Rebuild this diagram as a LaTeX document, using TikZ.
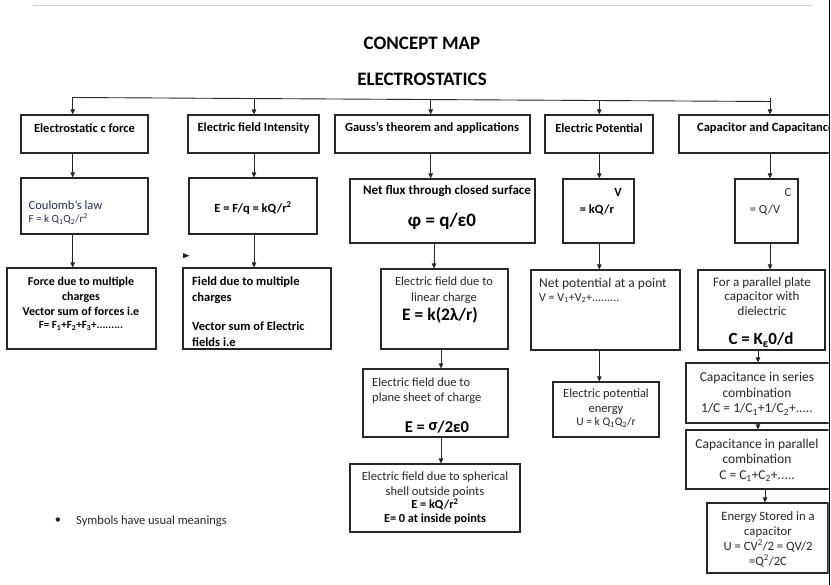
\documentclass[tikz,border=0pt]{standalone}
\usepackage{fontspec}
\setmainfont{Carlito}
\usetikzlibrary{arrows.meta,fit}
\definecolor{navytxt}{RGB}{35,45,80}
\begin{document}
\begin{tikzpicture}[x=1pt,y=-1pt,
  boxed/.style={draw=black!85, line width=1.1pt, inner sep=0pt},
  arr/.style={draw=black!85, line width=0.8pt, -{Triangle[length=5pt,width=4.5pt]}},
  lab/.style={font=\fontsize{12.5}{14}\selectfont\bfseries, inner sep=0pt},
  bold/.style={font=\fontsize{12}{15}\selectfont\bfseries, inner sep=0pt, align=center},
  body/.style={font=\fontsize{12.5}{15}\selectfont, text=black!85, inner sep=0pt, align=center},
  big/.style={font=\fontsize{17.5}{20}\selectfont\bfseries, inner sep=0pt},
  title/.style={font=\fontsize{19}{22}\selectfont\bfseries, inner sep=0pt}
]
\useasboundingbox (0,0) rectangle (831,585);
\draw[black!18, line width=1pt] (33,5.3) -- (812,5.3);
\begin{scope}
\clip (0,0) rectangle (828.6,585);
% titles
\node[title] (t1) at (422,43) {CONCEPT MAP};
\node[title] (t2) at (422,79.5) {ELECTROSTATICS};
% bus
\coordinate (busL) at (72.7,97.5);
\coordinate (busR) at (770,101.5);
\draw[black!85, line width=0.9pt] (busL) -- (busR);
\coordinate (c1) at (72.7,0);
\coordinate (c2) at (254,0);
\coordinate (c3) at (430.7,0);
\coordinate (c3b) at (434,0);
\coordinate (c3c) at (441,0);
\coordinate (c4) at (599.3,0);
\coordinate (c5) at (770,0);
\coordinate (c5b) at (758,0);
\coordinate (c5c) at (765,0);
\coordinate (r2) at (254,98.5);
\coordinate (r3) at (430.7,99.5);
\coordinate (r4) at (599.3,100.5);
\coordinate (r5) at (770,98);
% row 1 boxes
\node[boxed, fit={(21,115)(148,153)}] (b1a) {};
\node[boxed, fit={(188,115)(319,153)}] (b2a) {};
\node[boxed, fit={(335,115)(530,153)}] (b3a) {};
\node[boxed, fit={(545,115)(653,153)}] (b4a) {};
\node[boxed, fit={(679,115)(860,153)}] (b5a) {};
% row 2
\node[boxed, fit={(21,178)(148,234)}] (b1b) {};
\node[boxed, fit={(189,178)(317,234)}] (b2b) {};
\node[boxed, fit={(350,179)(535,243)}] (b3b) {};
\node[boxed, fit={(563,179)(634,243)}] (b4b) {};
\node[boxed, fit={(735,179)(798,243)}] (b5b) {};
% row 3
\node[boxed, fit={(7,268)(156,349)}] (b1c) {};
\node[boxed, fit={(183,268)(331,349)}] (b2c) {};
\node[boxed, fit={(381,269)(508,349)}] (b3c) {};
\node[boxed, fit={(531,270)(680,350)}] (b4c) {};
\node[boxed, fit={(698,270)(825,350)}] (b5c) {};
% lower boxes
\node[boxed, fit={(363,369)(508,437)}] (b3d) {};
\node[boxed, fit={(350,464)(520,532)}] (b3e) {};
\node[boxed, fit={(553,382)(659,437)}] (b4d) {};
\node[boxed, fit={(686,363)(860,423)}] (b5d) {};
\node[boxed, fit={(686,430)(860,489)}] (b5e) {};
\node[boxed, fit={(707,503)(828,573)}] (b5f) {};
% risers
\draw[arr] (busL) -- (b1a.north -| c1);
\draw[arr] (r2) -- (b2a.north -| c2);
\draw[arr] (r3) -- (b3a.north -| c3);
\draw[arr] (r4) -- (b4a.north -| c4);
\draw[arr] (r5) -- (b5a.north -| c5);
% column arrows
\draw[arr] (b1a.south -| c1) -- (b1b.north -| c1);
\draw[arr] (b1b.south -| c1) -- (b1c.north -| c1);
\draw[arr] (b2a.south -| c2) -- (b2b.north -| c2);
\draw[arr] (b2b.south -| c2) -- (b2c.north -| c2);
\draw[arr] (b3a.south -| c3) -- (b3b.north -| c3);
\draw[arr] (b3b.south -| c3b) -- (b3c.north -| c3b);
\draw[arr] (b3c.south -| c3c) -- (b3d.north -| c3c);
\draw[arr] (b3d.south -| c3c) -- (b3e.north -| c3c);
\draw[arr] (b4a.south -| c4) -- (b4b.north -| c4);
\draw[arr] (b4b.south -| c4) -- (b4c.north -| c4);
\draw[arr] (b4c.south -| c4) -- (b4d.north -| c4);
\draw[arr] (b5a.south -| c5) -- (b5b.north -| c5);
\draw[arr] (b5b.south -| c5) -- (b5c.north -| c5);
\draw[arr] (b5c.south -| c5b) -- (b5d.north -| c5b);
\draw[arr] (b5d.south -| c5b) -- (b5e.north -| c5b);
\draw[arr] (b5e.south -| c5c) -- (b5f.north -| c5c);
% stray arrowhead
\fill[black!85] (183,253) -- (189.5,255.7) -- (183,258.3) -- cycle;
% row 1 labels
\node[lab] (l1a) at (84.5,128) {Electrostatic c force};
\node[lab] (l2a) at (253.5,128) {Electric field Intensity};
\node[lab] (l3a) at (432,128) {Gauss’s theorem and applications};
\node[lab] (l4a) at (599,128) {Electric Potential};
\node[lab, anchor=west] (l5a) at (697,128) {Capacitor and Capacitance};
% row 2 texts
\node[body, align=left, anchor=north west, text=navytxt, font=\fontsize{12.5}{13.5}\selectfont] (l1b) at (28.5,200) {Coulomb’s law\\{\fontsize{11}{12}\selectfont F = k Q\textsubscript{1}Q\textsubscript{2}/r\textsuperscript{2}}};
\node[lab, font=\fontsize{12.5}{14}\selectfont\bfseries] (l2b) at (253,208) {E = F/q = kQ/r\textsuperscript{2}};
\node[lab, font=\fontsize{13}{14}\selectfont\bfseries] (l3b) at (447,191) {Net flux through closed surface};
\node[big, font=\fontsize{19}{21}\selectfont\bfseries] (l3b2) at (442,221) {φ = q/ε0};
\node[lab] (l4b) at (618,192) {V};
\node[lab] (l4b2) at (597,210) {= kQ/r};
\node[body] (l5b) at (788,192) {C};
\node[body] (l5b2) at (765,210) {= Q/V};
% row 3 texts
\node[bold, anchor=north] (l1c) at (81,277) {Force due to multiple\\charges\\Vector sum of forces i.e\\[-2pt]{\fontsize{11}{12}\selectfont F= F\textsubscript{1}+F\textsubscript{2}+F\textsubscript{3}+.........}};
\begin{scope}
\clip (183,268) rectangle (331,348.4);
\node[bold, align=left, anchor=north west, font=\fontsize{12.5}{16}\selectfont\bfseries] (l2c) at (192,277) {Field due to multiple\\charges\\[13pt]Vector sum of Electric\\fields i.e};
\end{scope}
\node[body, anchor=north] (l3c) at (444,277) {Electric field due to\\[1pt]linear charge};
\node[big] (l3c2) at (440,315) {E = k(2λ/r)};
\node[body, align=left, anchor=north west, font=\fontsize{13.5}{14}\selectfont] (l4c) at (539,277.5) {Net potential at a point\\{\fontsize{12}{12}\selectfont V = V\textsubscript{1}+V\textsubscript{2}+.........}};
\node[body, anchor=north, font=\fontsize{13}{14.5}\selectfont] (l5c) at (762,277) {For a parallel plate\\capacitor with\\dielectric};
\node[big, font=\fontsize{17}{20}\selectfont\bfseries] (l5c2) at (761,340) {C = K\raisebox{-3pt}{\fontsize{12}{12}\selectfont ε}0/d};
% lower texts
\node[body, align=left, anchor=north west] (l3d) at (372,378) {Electric field due to\\plane sheet of charge};
\node[big, font=\fontsize{16.5}{20}\selectfont\bfseries] (l3d2) at (437,427) {E = \raisebox{2pt}{σ}/2ε0};
\node[body, anchor=north, font=\fontsize{12.5}{15}\selectfont] (l3e) at (435,472) {Electric field due to spherical\\shell outside points\\[-2pt]\textbf{\color{black}\fontsize{12.3}{13}\selectfont E = kQ/r\textsuperscript{2}}\\[-1pt]\textbf{\color{black}\fontsize{12.3}{13}\selectfont E= 0 at inside points}};
\node[body, anchor=north] (l4d) at (606,389) {Electric potential\\energy\\[-2pt]{\fontsize{11.5}{12}\selectfont U = k Q\textsubscript{1}Q\textsubscript{2}/r}};
\node[body, anchor=north, font=\fontsize{13.5}{15.5}\selectfont] (l5d) at (757,372.5) {Capacitance in series\\combination\\1/C = 1/C\textsubscript{1}+1/C\textsubscript{2}+.....};
\node[body, anchor=north, font=\fontsize{13.5}{15.5}\selectfont] (l5e) at (757,438.5) {Capacitance in parallel\\combination\\C = C\textsubscript{1}+C\textsubscript{2}+.....};
\node[body, anchor=north, font=\fontsize{12.7}{15}\selectfont] (l5f) at (768,511) {Energy Stored in a\\capacitor\\U = CV\textsuperscript{2}/2 = QV/2\\=Q\textsuperscript{2}/2C};
% bullet
\node[body] (bul) at (58,521) {\textbullet};
\node[body, anchor=west] (bt) at (76,521) {Symbols have usual meanings};
\end{scope}
\draw[black, line width=1.4pt] (829.6,0) -- (829.6,585);
\end{tikzpicture}
\end{document}
